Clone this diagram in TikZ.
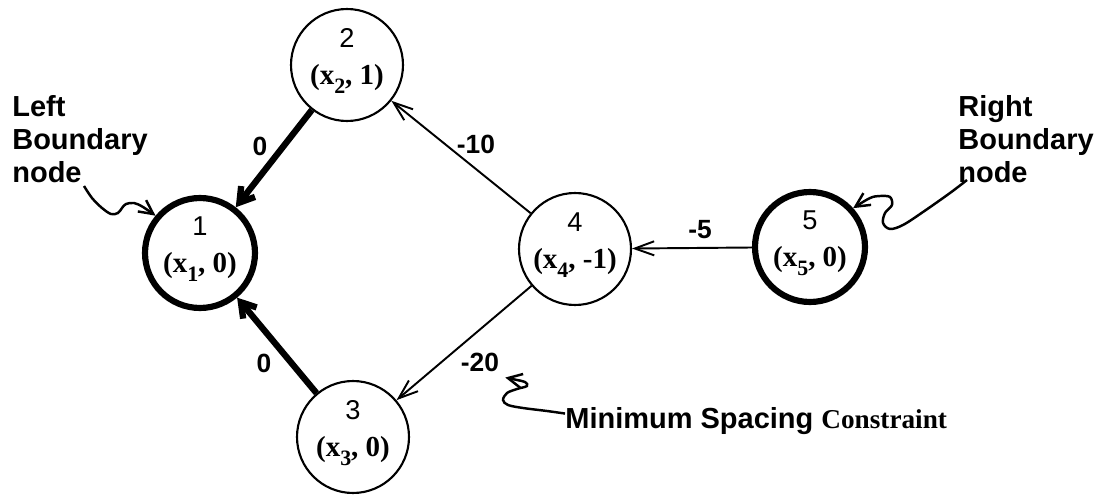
\documentclass[tikz,border=0pt]{standalone}
\usepackage{fontspec}
\setmainfont{Liberation Serif}
\setsansfont{Liberation Sans}
\usetikzlibrary{arrows.meta}

% lowered index in the coordinate pairs
\newcommand{\idx}[1]{\raisebox{-0.3em}{\fontsize{12.5}{12.5}\selectfont #1}}

\begin{document}
\begin{tikzpicture}[x=0.02cm, y=-0.02cm,
  vertex/.style={circle, draw, line width=1.2pt, minimum size=2.24cm, inner sep=0pt,
    align=center, text depth=0.34cm, font=\fontsize{15.5}{21}\selectfont},
  boundary/.style={vertex, line width=3.5pt, minimum size=2.2cm},
  arc/.style={line width=1.1pt, -{Straight Barb[length=11pt,width=8pt]}},
  tight/.style={line width=3.6pt, -{Straight Barb[length=8pt,width=10pt]}},
  wiggle/.style={line width=1.4pt, -{Straight Barb[length=8pt,width=8pt]}},
  wt/.style={font=\sffamily\bfseries\fontsize{15}{18}\selectfont},
  note/.style={font=\sffamily\bfseries\fontsize{16.5}{18.8}\selectfont, align=left,
    inner sep=0pt}]
\useasboundingbox (0,0) rectangle (1099,497);

% Constraint graph nodes
\node[boundary] (n1) at (200,253) {{\sffamily 1}\\{\fontsize{16.5}{21}\bfseries (x\idx{1}, 0)}};
\node[vertex] (n2) at (347,65) {{\sffamily 2}\\{\fontsize{16.5}{21}\bfseries (x\idx{2}, 1)}};
\node[vertex] (n3) at (353,437) {{\sffamily 3}\\{\fontsize{16.5}{21}\bfseries (x\idx{3}, 0)}};
\node[vertex] (n4) at (575,249) {{\sffamily 4}\\{\fontsize{16.5}{21}\bfseries (x\idx{4}, -1)}};
\node[boundary] (n5) at (810,247) {{\sffamily 5}\\{\fontsize{16.5}{21}\bfseries (x\idx{5}, 0)}};

% Edges with weights
\draw[tight] (n2) -- (n1);
\draw[tight] (n3) -- (n1);
\draw[arc] (n4) -- (n2);
\draw[arc] (n4) -- (n3);
\draw[arc] (n5) -- (n4);
\node[wt] (w21) at (260,146) {0};
\node[wt] (w31) at (264,363) {0};
\node[wt] (w42) at (476,144) {-10};
\node[wt] (w43) at (480,362) {-20};
\node[wt] (w54) at (700,230) {-5};

% Boundary notes
\node[note, anchor=north west] (lbl) at (12,95) {Left\\Boundary\\node};
\node[note, anchor=north west] (rbl) at (958,95) {Right\\Boundary\\node};
\coordinate (ltail) at (84,186);
\coordinate (rtail) at (967,180);
\draw[wiggle] plot[smooth, tension=0.55] coordinates {(ltail) (92,198) (102,208)
  (111,214) (118,213) (122,208) (126,204) (134,203) (143,207) (n1.140)};
\draw[wiggle] plot[smooth, tension=0.55] coordinates {(rtail) (950,193) (923,212)
  (903,225) (890,229) (883,223) (885,213) (892,205) (890,197) (880,196) (870,198) (n5.42)};

% Spacing constraint note
\node[note, anchor=base west] (cons) at (565,428)
  {Minimum Spacing {\rmfamily\bfseries\fontsize{15.5}{18}\selectfont Constraint}};
\draw[wiggle] plot[smooth, tension=0.55] coordinates {([yshift=4pt]cons.west) (547,411)
  (523,408) (508,405) (503,400) (507,393) (517,389) (527,386) (525,382) (517,380)
  (w43.south east)};
\end{tikzpicture}
\end{document}
